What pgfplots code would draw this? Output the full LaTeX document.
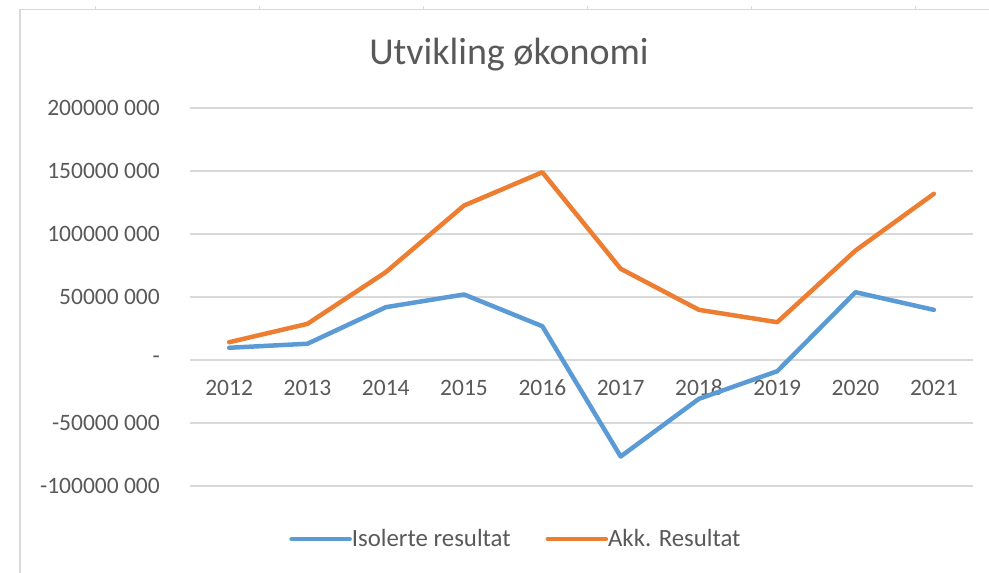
\documentclass[border=0pt]{standalone}
\usepackage{pgfplots}
\pgfplotsset{compat=1.18}
\usepackage{fontspec}
\setmainfont{Carlito}
\definecolor{xlblue}{HTML}{5B9BD5}
\definecolor{xlorange}{HTML}{ED7D31}
\definecolor{xlgrid}{HTML}{D9D9D9}
\definecolor{xltext}{HTML}{595959}
\begin{document}
\begin{tikzpicture}[x=1pt,y=1pt]
\path[use as bounding box] (0,0) rectangle (989,573);
\draw[xlgrid, line width=1.8pt] (20,0) -- (20,563.5) -- (989,563.5);
\foreach \x in {95,259,423,587,751,915} \draw[xlgrid,line width=1pt] (\x,563.5) -- (\x,566.5);
\node[xltext, anchor=base, inner sep=0pt, font=\fontsize{38}{44}\selectfont] at (509,508) {Utvikling økonomi};
\begin{axis}[at={(190pt,87pt)}, anchor=south west, scale only axis, width=783pt, height=378pt,
  xmin=-0.5, xmax=9.5, ymin=-100000000, ymax=200000000,
  axis line style={draw=none}, major tick length=0pt,
  xtick={0,1,2,3,4,5,6,7,8,9},
  xticklabels={2012,2013,2014,2015,2016,2017,2018,2019,2020,2021},
  ytick={-100000000,-50000000,0,50000000,100000000,150000000,200000000},
  yticklabels={-100000 000,-50000 000,{-\hspace{10pt}},50000 000,100000 000,150000 000,200000 000},
  scaled y ticks=false,
  ymajorgrids, grid style={xlgrid, line width=1.5pt},
  tick label style={font=\fontsize{23.5}{28}\selectfont, text=xltext},
  xticklabel style={anchor=center, yshift=98pt},
  yticklabel style={anchor=east, inner sep=0pt, xshift=-30pt},
  legend style={at={(0.415,-0.140)}, anchor=center, draw=none, fill=none,
    legend columns=2, font=\fontsize{24.8}{29}\selectfont, text=xltext,
    /tikz/every even column/.append style={column sep=35pt},
    nodes={inner sep=0pt}},
  legend image code/.code={\draw[#1, line width=4.5pt, line cap=round] (0pt,0pt) -- (58pt,0pt);},
  every axis plot/.append style={line width=4.5pt, line join=round, line cap=round},
]
\addplot[xlblue, mark=none] coordinates {
(0,9700000) (1,12900000) (2,41900000) (3,52000000) (4,26800000)
(5,-76600000) (6,-30800000) (7,-8900000) (8,53800000) (9,39800000)};
\addlegendentry{Isolerte resultat}
\addplot[xlorange, mark=none] coordinates {
(0,14100000) (1,28700000) (2,69700000) (3,122600000) (4,149000000)
(5,72400000) (6,39800000) (7,30000000) (8,86900000) (9,131900000)};
\addlegendentry{Akk. Resultat}
\end{axis}
\end{tikzpicture}
\end{document}
